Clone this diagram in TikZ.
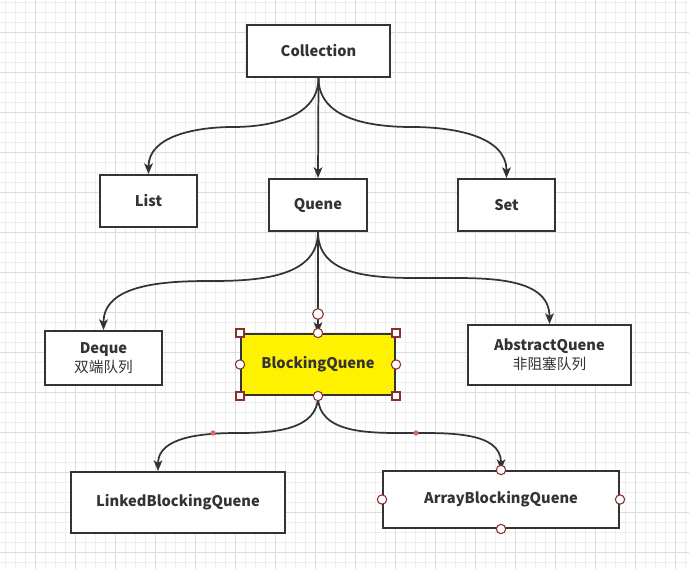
\documentclass[tikz,border=0pt]{standalone}
\usepackage{fontspec}
\setmainfont{Noto Sans CJK SC}
\usepackage{tikz}
\usetikzlibrary{positioning,arrows.meta}

\definecolor{ink}{HTML}{333333}
\definecolor{gridminor}{HTML}{EEEEEE}
\definecolor{gridmajor}{HTML}{DCDCDC}
\definecolor{handle}{HTML}{8B2E2E}
\definecolor{waypt}{HTML}{E06666}

\begin{document}
\begin{tikzpicture}[x=0.75pt,y=-0.75pt,>={Stealth[length=8pt,width=6.5pt,inset=2pt]},
  box/.style={draw=ink,line width=1.5pt,fill=white,align=center,text=ink,
    font=\fontsize{11}{14.5}\selectfont\bfseries},
  size/.style 2 args={minimum width=#1*0.75pt,minimum height=#2*0.75pt},
  link/.style={->,draw=ink,line width=1.3pt},
  sq/.style={draw=handle,fill=white,line width=0.8pt,minimum size=6pt,inner sep=0pt},
  dot/.style={circle,draw=handle,fill=white,line width=0.8pt,minimum size=7pt,inner sep=0pt},
  wp/.style={circle,fill=waypt,minimum size=4pt,inner sep=0pt}]

    % grid
    \useasboundingbox (0,0) rectangle (689,569);
    \fill[white] (0,0) rectangle (689,569);
    \foreach \x in {5,15,...,685} \draw[gridminor,line width=0.75pt] (\x,0) -- (\x,569);
    \foreach \y in {2,12,...,569} \draw[gridminor,line width=0.75pt] (0,\y) -- (689,\y);
    \foreach \x in {35,75,...,685} \draw[gridmajor,line width=0.75pt] (\x,0) -- (\x,569);
    \foreach \y in {32,72,...,569} \draw[gridmajor,line width=0.75pt] (0,\y) -- (689,\y);

    % The boxes
    \node [box,size={143}{52}] at (318.5,51) (Coll) {Collection};
    \node [box,size={97}{52}] at (148.5,201) (List) {List};
    \node [box,size={98}{52}] at (318,205) (Qu) {Quene};
    \node [box,size={97}{52}] at (506.5,205) (Set) {Set};

    \node [box,size={117}{54}] at (103.5,358) (Deq) {Deque\\{\mdseries 双端队列}};
    \node [box,size={154}{61},fill=yellow] at (318,364.5) (BQ) {BlockingQuene};
    \node [box,size={163}{60}] at (549.5,355) (AQ) {AbstractQuene\\{\mdseries 非阻塞队列}};

    \node [box,size={214}{61}] at (178,502.5) (LBQ) {LinkedBlockingQuene};
    \node [box,size={236}{57}] at (501,499.5) (ABQ) {ArrayBlockingQuene};

    % bends of the curved links
    \coordinate (c1) at (233,127);
    \coordinate (c2) at (412,127);
    \coordinate (q1) at (210,281);
    \coordinate (q2) at (433,278);
    \coordinate (b1) at (238,433);
    \coordinate (b2) at (409,433);

    % Graph edges
    \draw[link] (Coll.south) to[out=-90,in=0] (c1) to[out=180,in=90] (List.north);
    \draw[link] (Coll.south) -- (Qu.north);
    \draw[link] (Coll.south) to[out=-90,in=180] (c2) to[out=0,in=90] (Set.north);

    \draw[link] (Qu.south) to[out=-90,in=0] (q1) to[out=180,in=90] (Deq.north);
    \draw[link] (Qu.south) -- (BQ.north);
    \draw[link] (Qu.south) to[out=-90,in=180] (q2) to[out=0,in=90] (AQ.north);

    \draw[link] (BQ.south) to[out=-90,in=0] (b1) to[out=180,in=90] ([xshift=-15pt]LBQ.north);
    \draw[link] (BQ.south) to[out=-90,in=180] (b2) to[out=0,in=90] (ABQ.north);

    % selection handles
    \foreach \a in {north west,north east,south west,south east}
      \node [sq] (bq-\a) at (BQ.\a) {};
    \foreach \a in {north,south,west,east}
      \node [dot] (bqd-\a) at (BQ.\a) {};
    \foreach \a in {north,south,west,east}
      \node [dot] (abq-\a) at (ABQ.\a) {};
    \node [dot,minimum size=8pt] (end) at (318,314) {};
    \node [wp] (p1) at (213,433) {};
    \node [wp] (p2) at (416,433) {};

\end{tikzpicture}
\end{document}
